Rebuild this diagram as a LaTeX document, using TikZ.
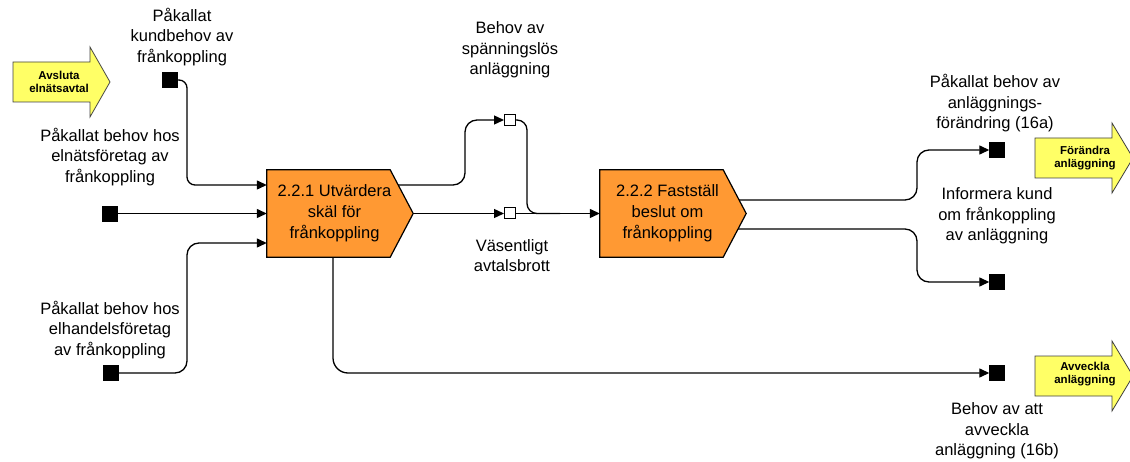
\documentclass[tikz,border=0pt]{standalone}
\usepackage{fontspec}
\setmainfont{Liberation Sans}
\usetikzlibrary{arrows.meta}
\definecolor{boxorange}{RGB}{255,153,51}
\definecolor{signyellow}{RGB}{255,255,102}
\begin{document}
\begin{tikzpicture}[x=1pt,y=-1pt,
  conn/.style={line width=1.3pt,-{Triangle[length=10pt,width=9pt]}},
  plainline/.style={line width=1.3pt},
  blk/.style={fill=black,draw=black,minimum size=15pt,inner sep=0pt},
  wht/.style={fill=white,draw=black,line width=1pt,minimum size=11pt,inner sep=0pt},
  lbl/.style={font=\fontsize{16.5}{20.5}\selectfont,align=center,inner sep=0pt},
  boxtxt/.style={font=\fontsize{16.5}{21}\selectfont,align=center,inner sep=0pt},
  signtxt/.style={font=\bfseries\fontsize{11.5}{13.5}\selectfont,align=center,inner sep=0pt},
  body/.style={draw=none,minimum width=123pt,minimum height=87pt,inner sep=0pt},
  procshape/.style={fill=boxorange,draw=black,line width=1.2pt},
  signshape/.style={fill=signyellow,draw=black!75,line width=0.8pt}]
\useasboundingbox (0,0) rectangle (1130,462);
\clip (0,0) rectangle (1130,462);

% process bodies (invisible, used for anchors)
\node[body] (b1) at (328.5,213.5) {};
\node[body] (b2) at (661.5,213.5) {};

% squares
\node[blk] (s1) at (170,80) {};
\node[blk] (s2) at (110,213.5) {};
\node[blk] (s3) at (111,373) {};
\node[blk] (s4) at (997,150) {};
\node[blk] (s5) at (997,282) {};
\node[blk] (s6) at (997,373) {};
\node[wht] (w1) at (510,120) {};
\node[wht] (w2) at (510,213.5) {};

% connectors
\draw[conn,rounded corners=8pt] (s1.east) -- (187,80) |- ([yshift=28.5pt]b1.west);
\draw[conn] (s2.east) -- (b1.west);
\draw[conn,rounded corners=12pt] (s3.east) -- (187,373) |- ([yshift=-29.5pt]b1.west);
\draw[conn,rounded corners=12pt] ([yshift=28.5pt]b1.east) -- (465,185) |- (w1.west);
\draw[conn] ([xshift=23pt]b1.east) -- (w2.west);
\draw[plainline,rounded corners=10pt] (w1.east) -- (527,120) -- (527,213.5) -- (560,213.5);
\draw[conn] (w2.east) -- (b2.west);
\draw[conn,rounded corners=15pt] (333,257) -- (333,373) -- (s6.west);
\draw[conn,rounded corners=12pt] ([yshift=13.5pt]b2.east) -- (917,200) |- (s4.west);
\draw[conn,rounded corners=12pt] ([yshift=-15.5pt]b2.east) -- (917,229) |- (s5.west);

% process shapes
\path[procshape] (b1.north west) -- (b1.north east) -- ([xshift=23pt]b1.east) -- (b1.south east) -- (b1.south west) -- cycle;
\path[procshape] (b2.north west) -- (b2.north east) -- ([xshift=23pt]b2.east) -- (b2.south east) -- (b2.south west) -- cycle;
\node[boxtxt] (t1) at (334.5,213.5) {2.2.1 Utvärdera\\skäl för\\frånkoppling};
\node[boxtxt] (t2) at (667.5,213.5) {2.2.2 Fastställ\\beslut om\\frånkoppling};

% yellow signal arrows
\path[signshape] (13,62) -- (90,62) -- (90,47) -- (110,82) -- (90,117) -- (90,102) -- (13,102) -- cycle;
\node[signtxt] (a1) at (59,82) {Avsluta\\elnätsavtal};
\path[signshape] (1035,138) -- (1112,138) -- (1112,123) -- (1133,158) -- (1112,193) -- (1112,178) -- (1035,178) -- cycle;
\node[signtxt] (a2) at (1085,158) {Förändra\\anläggning};
\path[signshape] (1035,356) -- (1112,356) -- (1112,341) -- (1133,376) -- (1112,411) -- (1112,396) -- (1035,396) -- cycle;
\node[signtxt] (a3) at (1085,374) {Avveckla\\anläggning};

% labels
\node[lbl] (l1) at (182,37) {Påkallat\\kundbehov av\\frånkoppling};
\node[lbl] (l2) at (110,157) {Påkallat behov hos\\elnätsföretag av\\frånkoppling};
\node[lbl] (l3) at (110,330) {Påkallat behov hos\\elhandelsföretag\\av frånkoppling};
\node[lbl] (l4) at (510,50) {Behov av\\spänningslös\\anläggning};
\node[lbl] (l5) at (512,255.5) {Väsentligt\\avtalsbrott};
\node[lbl] (l6) at (995,103.5) {Påkallat behov av\\anläggnings-\\förändring (16a)};
\node[lbl] (l7) at (997,216) {Informera kund\\om frånkoppling\\av anläggning};
\node[lbl] (l8) at (997,431) {Behov av att\\avveckla\\anläggning (16b)};
\end{tikzpicture}
\end{document}
